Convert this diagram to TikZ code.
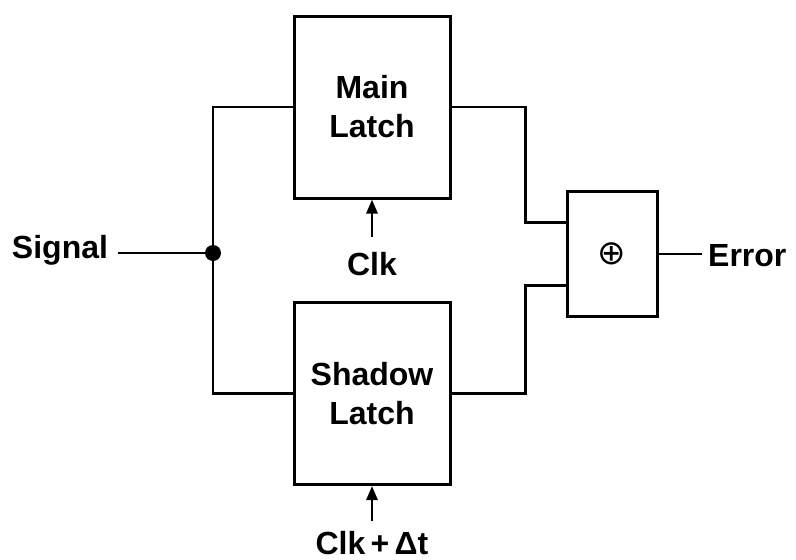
\documentclass[tikz,border=0pt]{standalone}
\usepackage{fontspec}
\setmainfont{Liberation Sans}
\newfontfamily\symfont{DejaVu Sans}
\usetikzlibrary{arrows.meta}

\tikzset{
  latch/.style={draw,line width=3pt,minimum width=156pt,minimum height=182pt,
    inner sep=0pt,align=center,font=\bfseries\fontsize{32}{39}\selectfont},
  wire/.style={line width=2.8pt},
  lbl/.style={inner sep=0pt,font=\bfseries\fontsize{32}{36}\selectfont},
  clkarrow/.style={wire,-{Triangle[length=14pt,width=11pt]}}
}

\begin{document}
\begin{tikzpicture}[x=1pt,y=-1pt]
\useasboundingbox (0,0) rectangle (796,560);

% the two latches and the comparator
\node[latch] (main) at (372,107) {Main\\Latch};
\node[latch] (shadow) at (372,393.5) {Shadow\\Latch};
\node[latch,minimum width=90pt,minimum height=125pt] (xor) at (612,254)
  {\symfont\mdseries\fontsize{34}{36}\selectfont ⊕};

% input split
\node[circle,fill,inner sep=0pt,minimum size=16pt] (dot) at (213,253) {};
\node[lbl] (signal) at (60,250) {Signal};
\draw[wire] (dot.center) -- ([xshift=10pt]dot -| signal.east);
\draw[wire] (main.west) -| (dot) |- (shadow.west);

% outputs into the comparator
\draw[wire] (main.east) -- ++(74,0) |- ([yshift=31.5pt]xor.west);
\draw[wire] (shadow.east) -- ++(74,0) |- ([yshift=-31.5pt]xor.west);
\node[lbl,anchor=west] (error) at (708,256) {Error};
\draw[wire] (xor.east) -- ([xshift=-6pt]xor.east -| error.west);

% clocks
\node[lbl] (clk) at (372,264) {Clk};
\draw[clkarrow] (clk.north) ++(0,-15) -- (main.south);
\node[lbl] (clkdt) at (372,543) {Clk\,+\,Δt};
\draw[clkarrow] (clkdt.north) ++(0,-10) -- (shadow.south);
\end{tikzpicture}
\end{document}
